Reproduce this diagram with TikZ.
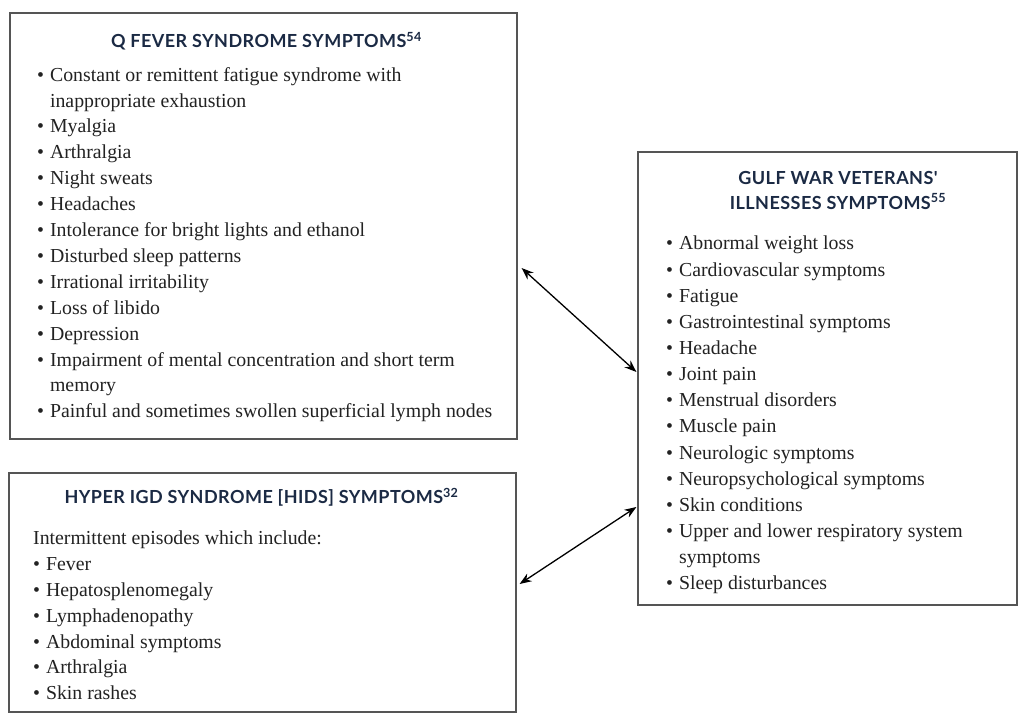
\documentclass[tikz,border=0pt]{standalone}
\usepackage{fontspec}
\setmainfont{Liberation Serif}
\newfontfamily\headfont{Lato}[LetterSpace=2.5]
\usetikzlibrary{arrows.meta}
\definecolor{headblue}{HTML}{1B2A44}
\definecolor{boxline}{HTML}{555555}
\definecolor{bodytext}{HTML}{222222}
\tikzset{
  panel/.style={draw=boxline, line width=1.2pt, rectangle, inner sep=0pt},
  heading/.style={font=\headfont\bfseries\fontsize{18}{25}\selectfont, text=headblue, align=center, inner sep=0pt},
  listtext/.style={font=\fontsize{19.8}{25.9}\selectfont, text=bodytext, align=left, inner sep=0pt, anchor=north west},
  link/.style={line width=1.3pt, {Stealth[length=12pt,width=9pt]}-{Stealth[length=12pt,width=9pt]}}
}
\newcommand{\bul}{\textbullet\hspace{0.3em}}
\newcommand{\ind}{\hphantom{\textbullet\hspace{0.3em}}}
\begin{document}
\begin{tikzpicture}[x=1pt,y=1pt]
\useasboundingbox[fill=white] (0,0) rectangle (1019,-714);
% boxes
\node[panel, minimum width=507pt, minimum height=426pt] (q) at (263.5,-226) {};
\node[panel, minimum width=507pt, minimum height=239pt] (h) at (262.5,-592.5) {};
\node[panel, minimum width=379pt, minimum height=453pt] (g) at (827.5,-378.5) {};
% headings
\node[heading] (qh) at (266.5,-41) {Q FEVER SYNDROME SYMPTOMS\textsuperscript{54}};
\node[heading] (hh) at (261.5,-497) {HYPER IGD SYNDROME [HIDS] SYMPTOMS\textsuperscript{32}};
\node[heading] (gh) at (838,-190) {GULF WAR VETERANS'\\ILLNESSES SYMPTOMS\textsuperscript{55}};
% lists
\node[listtext] (ql) at (37,-67) {%
\bul Constant or remittent fatigue syndrome with\\
\ind inappropriate exhaustion\\
\bul Myalgia\\
\bul Arthralgia\\
\bul Night sweats\\
\bul Headaches\\
\bul Intolerance for bright lights and ethanol\\
\bul Disturbed sleep patterns\\
\bul Irrational irritability\\
\bul Loss of libido\\
\bul Depression\\
\bul Impairment of mental concentration and short term\\
\ind memory\\
\bul Painful and sometimes swollen superficial lymph nodes};
\node[listtext] (hl) at (33,-530.5) {%
Intermittent episodes which include:\\
\bul Fever\\
\bul Hepatosplenomegaly\\
\bul Lymphadenopathy\\
\bul Abdominal symptoms\\
\bul Arthralgia\\
\bul Skin rashes};
\node[listtext, font=\fontsize{19.8}{26.15}\selectfont] (gl) at (666,-236) {%
\bul Abnormal weight loss\\
\bul Cardiovascular symptoms\\
\bul Fatigue\\
\bul Gastrointestinal symptoms\\
\bul Headache\\
\bul Joint pain\\
\bul Menstrual disorders\\
\bul Muscle pain\\
\bul Neurologic symptoms\\
\bul Neuropsychological symptoms\\
\bul Skin conditions\\
\bul Upper and lower respiratory system\\
\ind symptoms\\
\bul Sleep disturbances};
% connectors
\draw[link] ([xshift=4pt,yshift=-42pt]q.east) -- ([xshift=-1pt,yshift=6.5pt]g.west);
\draw[link] ([xshift=3pt,yshift=8.5pt]h.east) -- ([xshift=-1pt,yshift=-128.5pt]g.west);
\end{tikzpicture}
\end{document}
